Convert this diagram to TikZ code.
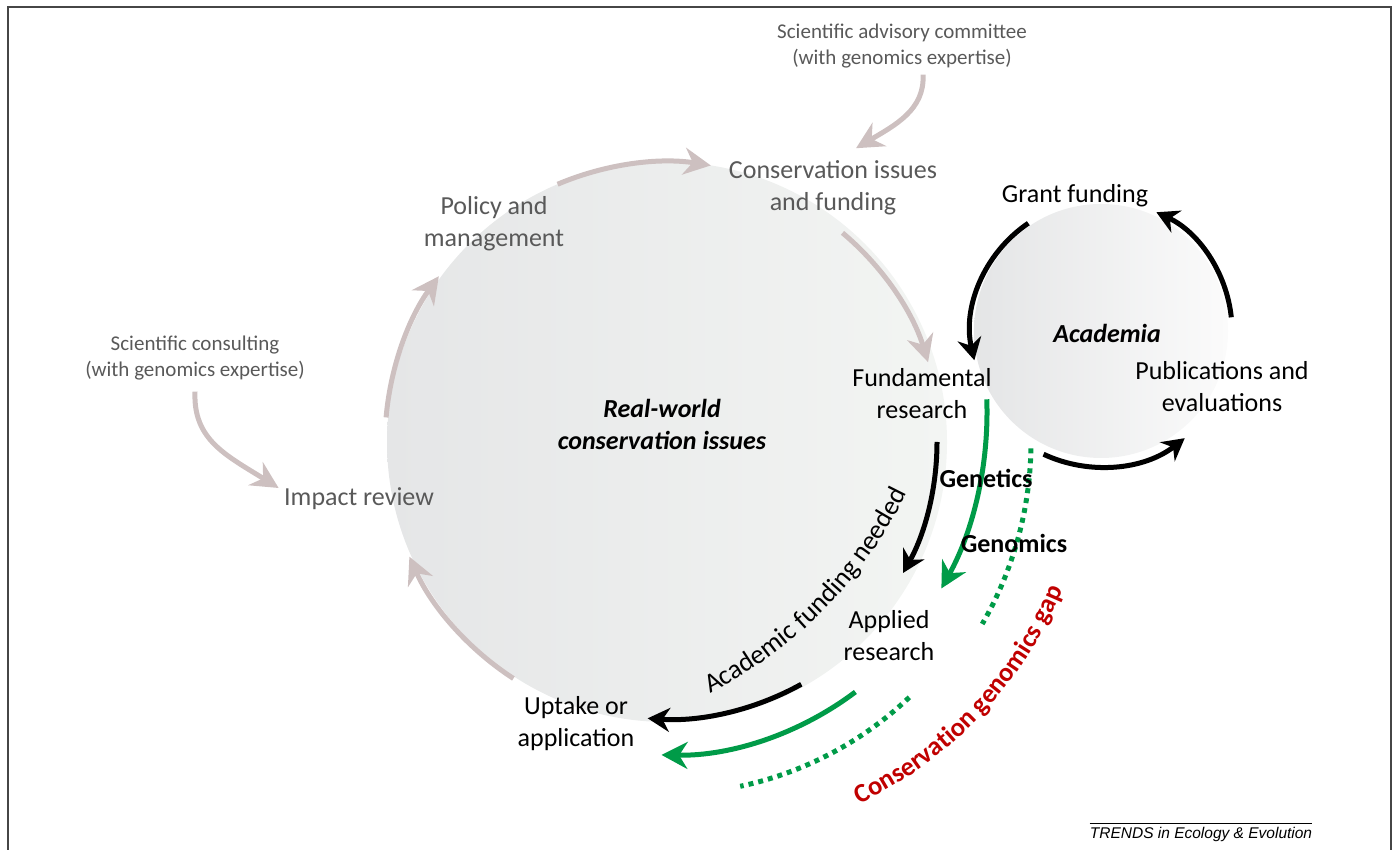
\documentclass[tikz,border=0pt]{standalone}
\usepackage{fontspec}
\setmainfont{Carlito}
\newfontfamily\trendsfont{Liberation Sans}
\usepackage{tikz}
\usetikzlibrary{arrows.meta, calc, decorations.text}
\definecolor{textgrey}{RGB}{89,89,89}
\definecolor{loopgrey}{RGB}{205,192,192}
\definecolor{genomicsgreen}{RGB}{0,155,72}
\definecolor{gapred}{RGB}{192,0,0}
\definecolor{frameline}{RGB}{70,70,70}
\definecolor{realleft}{RGB}{229,230,231}
\definecolor{realright}{RGB}{243,245,243}
\definecolor{acadleft}{RGB}{228,229,230}
\definecolor{acadright}{RGB}{251,251,251}
\tikzset{%
	greylabel/.style={
		text=textgrey,
		align=center,
		font=\fontsize{26}{32}\selectfont
	},
	blacklabel/.style={
		text=black,
		align=center,
		font=\fontsize{26}{32}\selectfont
	},
	smalllabel/.style={
		text=textgrey,
		align=center,
		font=\fontsize{21}{26}\selectfont
	},
	boldlabel/.style={
		text=black,
		font=\fontsize{26}{32}\selectfont\bfseries
	},
	titlelabel/.style={
		text=black,
		align=center,
		font=\fontsize{26}{32}\selectfont\bfseries\itshape
	},
	greyarrow/.style={
		draw=loopgrey,
		line width=5pt,
		-{Stealth[length=27pt,width=27pt]}
	},
	blackarrow/.style={
		draw=black,
		line width=5pt,
		-{Stealth[length=22pt,width=24pt]}
	},
	greenarrow/.style={
		draw=genomicsgreen,
		line width=5pt,
		-{Stealth[length=26pt,width=27pt]}
	},
	greendots/.style={
		draw=genomicsgreen,
		line width=5pt,
		dash pattern=on 5pt off 5pt
	},
}

\begin{document}
\begin{tikzpicture}[x=1pt, y=1pt]
			\useasboundingbox (0,0) rectangle (1396,850);
			\clip (0,0) rectangle (1396,850);
			% Frame
			\draw[frameline, line width=1.8pt] (8,-20) rectangle (1391,843);
			
			% Draw the two circles
			\coordinate (real) at (667,408);
			\coordinate (acad) at (1101,519);
			\shade[left color=realleft, right color=realright] (real) circle (280);
			\shade[left color=acadleft, right color=acadright] (acad) circle (127);
			
			% Real-world loop
			\draw[greyarrow] ($(real)+(175:282)$) arc[start angle=175, end angle=144, radius=282];
			\draw[greyarrow] ($(real)+(113:280)$) arc[start angle=113, end angle=81, radius=280];
			\draw[greyarrow] ($(real)+(50:273)$) arc[start angle=50, end angle=17, radius=273];
			\draw[greyarrow] ($(real)+(237:282)$) arc[start angle=237, end angle=204, radius=282];
			
			% Academia loop
			\draw[blackarrow] ($(acad)+(124:130)$) arc[start angle=124, end angle=193, radius=130];
			\draw[blackarrow] ($(acad)+(6:131)$) arc[start angle=6, end angle=65, radius=131];
			\draw[blackarrow] ($(acad)+(245:136)$) arc[start angle=245, end angle=308, radius=136];
			
			% Genetics path
			\draw[blackarrow] ($(real)+(0:270)$) arc[start angle=0, end angle=-29, radius=270];
			\draw[blackarrow] ($(real)+(-61:277)$) arc[start angle=-61, end angle=-94, radius=277];
			
			% Genomics path
			\coordinate (greenc) at (623,438);
			\draw[greenarrow] ($(greenc)+(2:364)$) arc[start angle=2, end angle=-29, radius=364];
			\draw[greenarrow] ($(real)+(-53:313)$) arc[start angle=-53, end angle=-91, radius=313];
			\draw[greendots] ($(real)+(-1:364)$) arc[start angle=-1, end angle=-30, radius=364];
			\draw[greendots] ($(real)+(-46.5:352)$) arc[start angle=-46.5, end angle=-78, radius=352];
			
			% Curved texts
			\coordinate (fundc) at (511,549);
			\path[decorate, decoration={text along path, text align=center,
				text={|\fontsize{27}{30}\selectfont|Academic funding needed}}]
				($(fundc)+(-66:440)$) arc[start angle=-66, end angle=-23, radius=440];
			\coordinate (gapc) at (680,420);
			\path[decorate, decoration={text along path, text align=center, text color=gapred,
				text={|\fontsize{26.5}{30}\selectfont\bfseries|Conservation genomics gap}}]
				($(gapc)+(-66:415)$) arc[start angle=-66, end angle=-21, radius=415];
			
			% Labels
			\node[smalllabel] (advisory) at (902,804) {Scientific advisory committee\\(with genomics expertise)};
			\node[greylabel] (issues) at (833,662) {Conservation issues\\and funding};
			\node[greylabel] (policy) at (494,626) {Policy and\\management};
			\node[greylabel] (impact) at (359,351) {Impact review};
			\node[smalllabel] (consulting) at (195,492) {Scientific consulting\\(with genomics expertise)};
			\node[titlelabel] (realworld) at (662,426) {Real-world\\conservation issues};
			\node[blacklabel] (fundamental) at (922,456) {Fundamental\\research};
			\node[blacklabel] (grant) at (1075,654) {Grant funding};
			\node[titlelabel] (academia) at (1107,517) {Academia};
			\node[blacklabel] (publications) at (1222,463) {Publications and\\evaluations};
			\node[boldlabel] (genetics) at (986,372) {Genetics};
			\node[boldlabel] (genomics) at (1014,307) {Genomics};
			\node[blacklabel] (applied) at (889,214) {Applied\\research};
			\node[blacklabel] (uptake) at (576,126) {Uptake or\\application};
			
			% Outside advice
			\draw[greyarrow] ($(advisory.south)+(21,-3)$) .. controls +(2,-35) and +(39,23) .. ($(issues.north)+(23,9)$);
			\draw[greyarrow] ($(consulting.south)+(0,-8)$) .. controls +(-2,-48) and +(-53,33) .. ($(impact.west)+(-2,11)$);
			
			% Footer
			\node[inner sep=0pt, font=\trendsfont\itshape\fontsize{15.5}{18}\selectfont] (trends) at (1201,16) {TRENDS in Ecology \& Evolution};
			\draw[line width=1.2pt] ($(trends.north west)+(0,3)$) -- ($(trends.north east)+(0,3)$);
			
\end{tikzpicture}
\end{document}
